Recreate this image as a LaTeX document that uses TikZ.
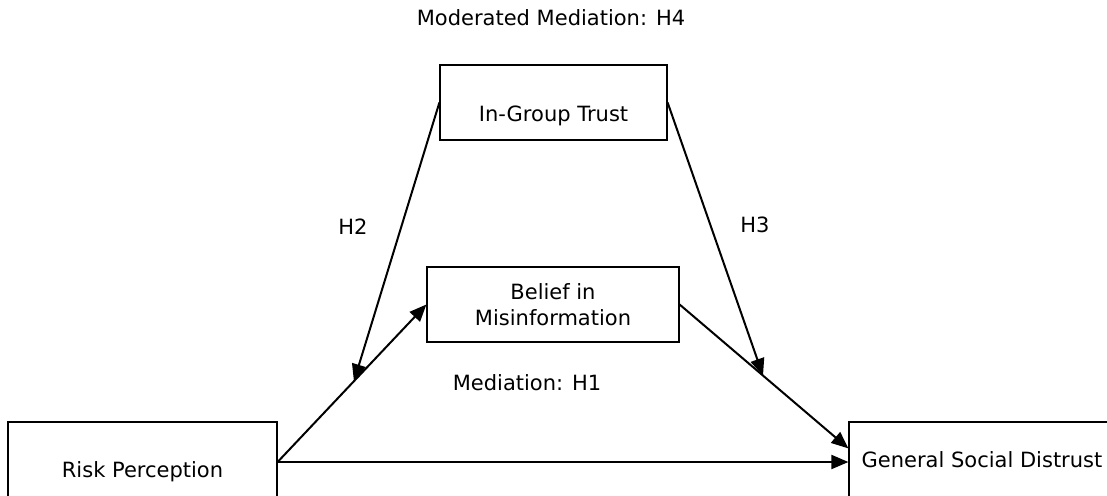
\documentclass[tikz,border=0pt]{standalone}
\usepackage{fontspec}
\setmainfont{DejaVu Sans}
\usetikzlibrary{arrows.meta,calc}

\begin{document}
\begin{tikzpicture}[x=1pt,y=-1pt,>={Triangle[length=17pt,width=14pt]},semithick,
            every node/.style={font=\fontsize{21}{26}\selectfont},
            box/.style={draw=black,line width=1.2pt,inner sep=0pt,minimum height=75pt},
            lbl/.style={inner sep=0pt,text depth=0pt,text height=15pt},
            link/.style={->,line width=2pt}]
            \useasboundingbox (0,0) rectangle (1107,495);
            \node[box,minimum width=227pt,text depth=0pt,text height=37pt](IGT)at(553.5, 102.5){In-Group Trust};
            \node[box,minimum width=252pt,align=center](BM)at(553, 304.5){Belief in\\Misinformation};
            \node[box,minimum width=269pt,minimum height=80pt,text depth=0pt,text height=31pt](RP)at(142.5, 462){Risk Perception};
            \node[box,minimum width=266pt,minimum height=80pt,text depth=0pt,text height=11pt](GSD)at(982, 462){General Social Distrust};
            \node[lbl](H4)at(551, 18){Moderated Mediation: H4};
            \node[lbl](H2)at(353, 227){H2};
            \node[lbl](H3)at(755, 225){H3};
            \node[lbl](H1)at(527, 383){Mediation: H1};
            \coordinate (gsdin) at ($(GSD.north west)+(0,27)$);
            \coordinate (h2) at ($(RP.east)!0.513!(BM.west)$);
            \coordinate (h3) at ($(BM.east)!0.494!(gsdin)$);
            \path[link] (RP.east) edge (BM.west)
            (RP.east) edge (GSD.west)
            (BM.east) edge (gsdin)
            (IGT.west) edge (h2)
            (IGT.east) edge (h3);
        \end{tikzpicture}
\end{document}
